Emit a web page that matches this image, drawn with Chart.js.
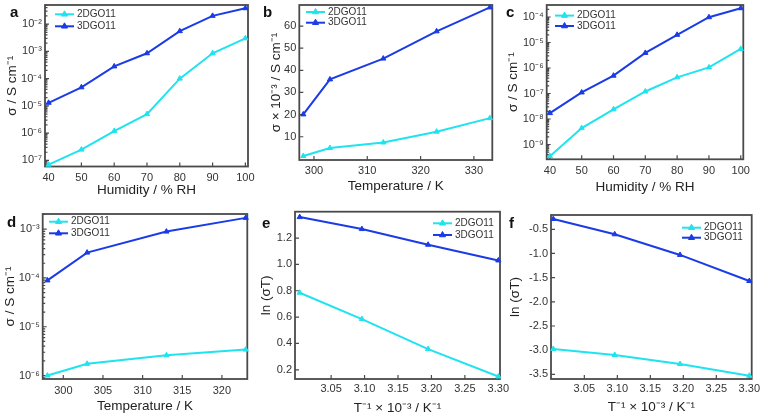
<!DOCTYPE html>
<html>
<head>
<meta charset="utf-8">
<script src="https://cdn.jsdelivr.net/npm/chart.js@4.4.0/dist/chart.umd.min.js"></script>
<style>
  body { margin: 0; background: #fff; }
  #fig { position: relative; width: 760px; height: 417px; overflow: hidden; }
  .panel { position: absolute; }
  .tag { position: absolute; font: bold 15px "Liberation Sans", Arial, sans-serif; line-height: 15px; color: #111; }
</style>
</head>
<body>
<div id="fig">
  <div class="panel" style="left:0px;top:0px;width:255px;height:205px"><canvas id="chartA"></canvas></div>
  <div class="panel" style="left:252px;top:0px;width:250px;height:205px"><canvas id="chartB"></canvas></div>
  <div class="panel" style="left:502px;top:0px;width:258px;height:205px"><canvas id="chartC"></canvas></div>
  <div class="panel" style="left:0px;top:205px;width:255px;height:212px"><canvas id="chartD"></canvas></div>
  <div class="panel" style="left:252px;top:205px;width:268px;height:212px"><canvas id="chartE"></canvas></div>
  <div class="panel" style="left:502px;top:205px;width:258px;height:212px"><canvas id="chartF"></canvas></div>
  <div class="tag" style="left:10px;top:4px">a</div>
  <div class="tag" style="left:263px;top:4px">b</div>
  <div class="tag" style="left:506px;top:4px">c</div>
  <div class="tag" style="left:7px;top:214px">d</div>
  <div class="tag" style="left:262px;top:215px">e</div>
  <div class="tag" style="left:509px;top:215px">f</div>
</div>
<script>
// data
const seriesNames = ['2DGO11', '3DGO11'];

const humidity = [40, 50, 60, 70, 80, 90, 100];
const tempB = [298, 303, 313, 323, 333];
const tempD = [298, 303, 313, 323];
const invT = [3.003, 3.096, 3.195, 3.300];

const a2D = [7e-8, 2.5e-7, 1.2e-6, 5e-6, 1e-4, 8.5e-4, 3e-3];
const a3D = [1.3e-5, 4.8e-5, 2.8e-4, 8.5e-4, 5.5e-3, 2e-2, 3.8e-2];
const b2D = [1.3, 4.9, 7.4, 12.3, 18.4];
const b3D = [20.1, 35.9, 45.3, 57.6, 68.4];
const c2D = [3.5e-10, 4.4e-9, 2.4e-8, 1.2e-7, 4.3e-7, 1.05e-6, 5.6e-6];
const c3D = [1.7e-8, 1.1e-7, 5e-7, 3.9e-6, 2e-5, 9.8e-5, 2.2e-4];
const d2D = [1e-6, 1.74e-6, 2.6e-6, 3.4e-6];
const d3D = [8.9e-5, 3.3e-4, 8.9e-4, 1.7e-3];
const e2D = [0.785, 0.585, 0.357, 0.149];
const e3D = [1.359, 1.268, 1.149, 1.03];
const f2D = [-2.976, -3.10, -3.287, -3.53];
const f3D = [-0.287, -0.603, -1.03, -1.57];

// tick labels
const humTicks = [40, 50, 60, 70, 80, 90, 100];
const aTicksY = [1e-7, 1e-6, 1e-5, 1e-4, 1e-3, 1e-2];
const bTicksX = [300, 310, 320, 330];
const bTicksY = [10, 20, 30, 40, 50, 60];
const cTicksY = [1e-9, 1e-8, 1e-7, 1e-6, 1e-5, 1e-4];
const dTicksX = [300, 305, 310, 315, 320];
const dTicksY = [1e-6, 1e-5, 1e-4, 1e-3];
const invTicks = [3.05, 3.10, 3.15, 3.20, 3.25, 3.30];
const eTicksY = [0.2, 0.4, 0.6, 0.8, 1.0, 1.2];
const fTicksY = [-3.5, -3.0, -2.5, -2.0, -1.5, -1.0, -0.5];

const cyan = '#1fe3ee';
const blue = '#1a3be6';
const frameColor = '#4a4a4a';

Chart.defaults.font.family = '"Liberation Sans", Arial, sans-serif';
Chart.defaults.color = '#333';

const SUP = {'-': '⁻', '0': '⁰', '1': '¹', '2': '²', '3': '³', '4': '⁴', '5': '⁵', '6': '⁶', '7': '⁷', '8': '⁸', '9': '⁹'};
const pow10 = v => '10' + String(Math.round(Math.log10(v))).split('').map(c => SUP[c]).join('');

// box around the plot, inward ticks, small legend inside the plot
const framePlugin = {
  id: 'frame',
  beforeDatasetsDraw(chart) {
    const {ctx, chartArea: a, scales} = chart;
    ctx.save();
    ctx.strokeStyle = frameColor;
    ctx.lineWidth = 1.8;
    ctx.strokeRect(a.left, a.top, a.right - a.left, a.bottom - a.top);
    ctx.lineWidth = 1.2;
    ctx.beginPath();
    scales.x.ticks.forEach(t => {
      const px = scales.x.getPixelForValue(t.value);
      ctx.moveTo(px, a.bottom); ctx.lineTo(px, a.bottom - 4);
    });
    scales.y.ticks.forEach(t => {
      const py = scales.y.getPixelForValue(t.value);
      ctx.moveTo(a.left, py); ctx.lineTo(a.left + 4, py);
    });
    if (scales.y.type === 'logarithmic') {
      const lo = Math.floor(Math.log10(scales.y.min)), hi = Math.ceil(Math.log10(scales.y.max));
      for (let d = lo; d <= hi; d++) {
        for (let m = 2; m <= 9; m++) {
          const v = m * Math.pow(10, d);
          if (v < scales.y.min || v > scales.y.max) continue;
          const py = scales.y.getPixelForValue(v);
          ctx.moveTo(a.left, py); ctx.lineTo(a.left + 2.5, py);
        }
      }
    }
    ctx.stroke();
    ctx.restore();
  },
  afterDraw(chart, args, opts) {
    const {ctx, chartArea: a} = chart;
    ctx.save();
    ctx.font = '10px "Liberation Sans", Arial, sans-serif';
    ctx.textBaseline = 'middle';
    chart.data.datasets.forEach((ds, i) => {
      const x0 = a.left + opts.dx, y = a.top + opts.dy + i * opts.gap;
      ctx.strokeStyle = ds.borderColor;
      ctx.fillStyle = ds.borderColor;
      ctx.lineWidth = 2;
      ctx.beginPath(); ctx.moveTo(x0, y); ctx.lineTo(x0 + 19, y); ctx.stroke();
      ctx.lineWidth = 1;
      Chart.helpers.drawPoint(ctx, {pointStyle: 'triangle', radius: 3.5, borderWidth: 1, rotation: 0}, x0 + 9.5, y);
      ctx.fillStyle = '#333';
      ctx.fillText(ds.label, x0 + 22, y);
    });
    ctx.restore();
  }
};

function makeSeries(xs, ys, color, i) {
  return {
    label: seriesNames[i],
    data: xs.map((x, k) => ({x: x, y: ys[k]})),
    borderColor: color,
    backgroundColor: color,
    borderWidth: 2,
    pointStyle: 'triangle',
    pointRadius: 3,
    pointBorderWidth: 1,
    tension: 0,
    clip: false
  };
}

function panel(id, p) {
  return new Chart(document.getElementById(id), {
    type: 'line',
    data: {
      datasets: [makeSeries(p.xs, p.s2, cyan, 0), makeSeries(p.xs, p.s3, blue, 1)]
    },
    options: {
      responsive: true,
      maintainAspectRatio: false,
      animation: false,
      layout: { padding: { left: 0, top: p.padTop, right: p.padRight, bottom: 0 } },
      plugins: {
        legend: { display: false },
        tooltip: { enabled: false },
        frame: p.legend
      },
      scales: {
        x: {
          type: 'linear',
          bounds: 'data',
          min: p.xMin, max: p.xMax,
          afterBuildTicks: s => { s.ticks = p.xTicks.map(v => ({value: v})); },
          afterFit: s => { s.height = p.xHeight; s.paddingLeft = 0; s.paddingRight = 0; },
          grid: { display: false, drawTicks: false },
          border: { display: false },
          ticks: { padding: p.xTickPad, color: '#333', font: { size: 11 }, maxRotation: 0, autoSkip: false, callback: p.xFmt },
          title: { display: true, text: p.xTitle, color: '#222', font: { size: 13.5 }, padding: { top: 0, bottom: p.xTitlePad } }
        },
        y: {
          type: p.yType,
          bounds: 'data',
          min: p.yMin, max: p.yMax,
          afterBuildTicks: s => { s.ticks = p.yTicks.map(v => ({value: v, major: true})); },
          afterFit: s => { s.width = p.yWidth; s.paddingTop = 0; s.paddingBottom = 0; },
          grid: { display: false, drawTicks: false },
          border: { display: false },
          ticks: { padding: 3, color: '#333', font: { size: 11 }, autoSkip: false, callback: p.yFmt },
          title: { display: true, text: p.yTitle, color: '#222', font: { size: 13.5 }, padding: { top: p.yTitlePad, bottom: 0 } }
        }
      }
    },
    plugins: [framePlugin]
  });
}

const intFmt = v => String(v);
const fix1 = v => v.toFixed(1);
const fix2 = v => v.toFixed(2);
const sigmaTitle = 'σ / S cm⁻¹';
const lnTitle = 'ln (σT)';
const invTitle = 'T⁻¹ × 10⁻³ / K⁻¹';

panel('chartA', {
  xs: humidity, s2: a2D, s3: a3D,
  xMin: 38.9, xMax: 100.8, xTicks: humTicks, xFmt: intFmt, xTitle: 'Humidity / % RH',
  yType: 'logarithmic', yMin: 6e-8, yMax: 5e-2, yTicks: aTicksY, yFmt: pow10, yTitle: sigmaTitle,
  padTop: 3, padRight: 7, yWidth: 45, xHeight: 38.5, xTickPad: 4.5, yTitlePad: 3.9, xTitlePad: 6.9,
  legend: { dx: 10, dy: 9.3, gap: 12 }
});

panel('chartB', {
  xs: tempB, s2: b2D, s3: b3D,
  xMin: 297.25, xMax: 333.45, xTicks: bTicksX, xFmt: intFmt, xTitle: 'Temperature / K',
  yType: 'linear', yMin: -0.5, yMax: 69.5, yTicks: bTicksY, yFmt: intFmt, yTitle: 'σ × 10⁻³ / S cm⁻¹',
  padTop: 4, padRight: 9.7, yWidth: 47.3, xHeight: 45, xTickPad: 4.4, yTitlePad: 16.6, xTitlePad: 10.9,
  legend: { dx: 6.7, dy: 7, gap: 10.7 }
});

panel('chartC', {
  xs: humidity, s2: c2D, s3: c3D,
  xMin: 39.0, xMax: 100.8, xTicks: humTicks, xFmt: intFmt, xTitle: 'Humidity / % RH',
  yType: 'logarithmic', yMin: 2.63e-10, yMax: 2.95e-4, yTicks: cTicksY, yFmt: pow10, yTitle: sigmaTitle,
  padTop: 1.7, padRight: 16.7, yWidth: 44.7, xHeight: 45.7, xTickPad: 4.6, yTitlePad: 2.9, xTitlePad: 9.9,
  legend: { dx: 8.3, dy: 10.6, gap: 10.4 }
});

panel('chartD', {
  xs: tempD, s2: d2D, s3: d3D,
  xMin: 297.4, xMax: 323.2, xTicks: dTicksX, xFmt: intFmt, xTitle: 'Temperature / K',
  yType: 'logarithmic', yMin: 8.5e-7, yMax: 2.04e-3, yTicks: dTicksY, yFmt: pow10, yTitle: sigmaTitle,
  padTop: 9, padRight: 7.7, yWidth: 42.7, xHeight: 38, xTickPad: 5.4, yTitlePad: 1.9, xTitlePad: 2.9,
  legend: { dx: 6.3, dy: 7.7, gap: 11.6 }
});

panel('chartE', {
  xs: invT, s2: e2D, s3: e3D,
  xMin: 2.996, xMax: 3.3025, xTicks: invTicks, xFmt: fix2, xTitle: invTitle,
  yType: 'linear', yMin: 0.13, yMax: 1.40, yTicks: eTicksY, yFmt: fix1, yTitle: lnTitle,
  padTop: 6.7, padRight: 20, yWidth: 43, xHeight: 38, xTickPad: 3.4, yTitlePad: 6.6, xTitlePad: 0.9,
  legend: { dx: 138, dy: 11.6, gap: 11.7 }
});

panel('chartF', {
  xs: invT, s2: f2D, s3: f3D,
  xMin: 2.9995, xMax: 3.3036, xTicks: invTicks, xFmt: fix2, xTitle: invTitle,
  yType: 'linear', yMin: -3.597, yMax: -0.204, yTicks: fTicksY, yFmt: fix1, yTitle: lnTitle,
  padTop: 10, padRight: 8.3, yWidth: 49, xHeight: 38, xTickPad: 3.4, yTitlePad: 4.9, xTitlePad: 1.9,
  legend: { dx: 131, dy: 12.7, gap: 10 }
});
</script>
</body>
</html>
